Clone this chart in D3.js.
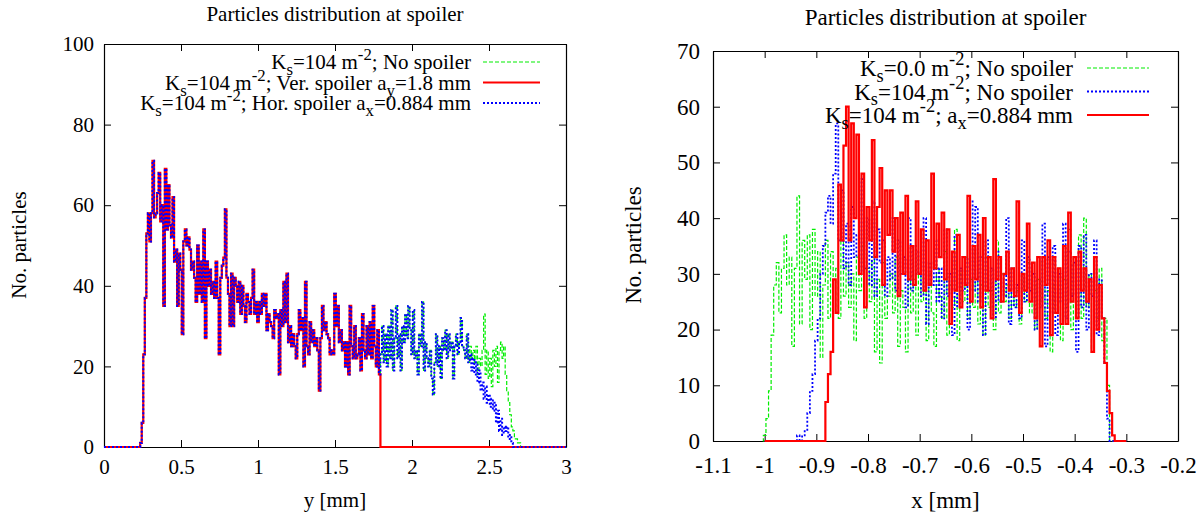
<!DOCTYPE html>
<html>
<head>
<meta charset="utf-8">
<script src="https://cdn.jsdelivr.net/npm/d3@7"></script>
<style>
  body { margin: 0; background: #fff; }
  svg { display: block; }
  svg text { font-family: "Liberation Serif", "DejaVu Serif", serif; }
</style>
</head>
<body>
<div id="container"></div>
<script>
// --- Data: left panel, histogram of y (bin 0.01 mm) --------------------------
const yBinStart = 0.24;
const yBinStep = 0.01;
// shared by all three series from 0.24 to 2.33 mm
const commonCounts = [
  1, 6, 23, 37, 53, 58, 51, 58, 71, 57,
  58, 63, 68, 56, 60, 35, 69, 54, 65, 55,
  52, 62, 46, 49, 35, 48, 44, 28, 51, 54,
  50, 52, 49, 44, 46, 42, 36, 50, 38, 46,
  36, 54, 27, 46, 40, 44, 38, 41, 37, 46,
  37, 23, 42, 45, 47, 59, 42, 38, 30, 43,
  30, 42, 40, 36, 41, 33, 40, 35, 31, 38,
  36, 33, 37, 44, 33, 36, 31, 36, 33, 38,
  35, 38, 29, 33, 31, 30, 27, 34, 32, 33,
  18, 34, 30, 41, 31, 43, 26, 30, 25, 28,
  25, 22, 28, 34, 29, 32, 20, 41, 25, 23,
  31, 26, 29, 25, 27, 24, 14, 27, 35, 29,
  31, 28, 27, 23, 24, 23, 38, 30, 35, 26,
  29, 24, 26, 20, 26, 18, 35, 25, 22, 30,
  22, 23, 27, 19, 33, 24, 22, 30, 23, 31,
  22, 35, 25, 20, 29, 18,
  23, 30, 21, 28, 20, 30, 22, 34, 19, 27,
  35, 22, 28, 19, 30, 26, 33, 27, 35, 29,
  23, 34, 22, 24, 18, 28, 25, 36, 19, 26,
  22, 20, 24, 17, 13, 21, 28, 20, 25, 17,
  27, 24, 29, 22, 28, 24, 26, 17, 25, 28,
  23, 26, 32, 25,
];
// from 2.34 mm onward the spoiler-free and horizontal-spoiler runs split
const noSpoilerTail = [
  24, 22, 28, 21, 25, 22, 24, 21, 25, 18,
  22, 20, 24, 33, 18, 24, 17, 22, 15, 24,
  20, 25, 16, 24, 26, 22, 25, 18, 14, 11,
  8, 5, 4, 2, 2, 1, 1, 0,
];
const horSpoilerTail = [
  24, 22, 28, 21, 23, 19, 22, 18, 21, 16,
  19, 14, 16, 12, 15, 11, 13, 10, 12, 9,
  11, 6, 9, 4, 7, 3, 5, 4, 5, 2,
  3, 1, 0,
];
const verSpoilerEdge = 1.8; // red series is empty beyond the vertical aperture

// --- Data: right panel, histogram of x (bin 0.005 mm) -------------------------
const xBinStep = 0.005;
const ks0Start = -1.0;
const ks0Counts = [
  1, 4, 9, 19, 28, 32, 23, 31, 37, 28,
  33, 17, 31, 44, 21, 36, 29, 37, 20, 38,
  26, 34, 15, 28, 36, 22, 34, 23, 31, 22,
  37, 26, 32, 24, 30, 18, 33, 27, 35, 22,
  31, 25, 33, 16, 29, 14, 32, 22, 26, 30,
  23, 33, 17, 27, 24, 16, 30, 23, 29, 19,
  33, 25, 28, 18, 30, 23, 17, 31, 26, 22,
  34, 19, 28, 24, 38, 18, 30, 25, 33, 22,
  29, 24, 35, 21, 28, 19, 33, 24, 27, 20,
  36, 23, 30, 25, 28, 22, 31, 24, 27, 21,
  30, 25, 32, 23, 28, 20, 29, 25, 33, 22,
  27, 16, 28, 23, 31, 18, 29, 24, 38, 20,
  33, 25, 37, 22, 40, 24, 30, 16, 27, 22,
  31, 18, 22, 10, 0,
];
const ks104Start = -0.935;
const ks104Counts = [
  1, 0, 1, 2, 5, 9, 12, 18, 22, 30,
  35, 41, 44, 39, 48, 57, 36, 45, 31, 39,
  28, 42, 33, 37, 30, 47, 31, 40, 28, 43,
  26, 38, 32, 36, 26, 33, 29, 40, 27, 36,
  30, 33, 24, 40, 27, 35, 30, 34, 26, 40,
  21, 32, 28, 36, 25, 31, 22, 38, 26, 30,
  19, 37, 24, 31, 27, 33, 20, 43, 27, 42,
  25, 33, 19, 36, 27, 31, 22, 34, 25, 30,
  26, 40, 21, 31, 24, 28, 22, 36, 25, 33,
  27, 30, 20, 29, 24, 39, 17, 33, 23, 35,
  19, 30, 25, 39, 22, 34, 26, 32, 16, 35,
  24, 37, 20, 30, 26, 36, 19, 29, 22, 14,
  4, 0,
];
const axStart = -0.885;
const axCounts = [
  0, 7, 12, 16, 29, 23, 46, 36, 53, 60,
  36, 57, 40, 55, 30, 48, 24, 42, 36, 54,
  33, 42, 49, 28, 45, 37, 45, 34, 40, 26,
  41, 30, 44, 29, 35, 28, 43, 30, 38, 27,
  36, 28, 48, 31, 39, 33, 41, 29, 38, 21,
  34, 27, 37, 24, 33, 28, 44, 25, 35, 29,
  37, 24, 40, 27, 33, 22, 47, 29, 33, 25,
  30, 34, 27, 31, 26, 43, 23, 30, 27, 39,
  25, 32, 22, 33, 17, 33, 28, 36, 19, 33,
  23, 31, 21, 35, 21, 41, 25, 33, 22, 34,
  27, 31, 25, 29, 16, 33, 20, 28, 22, 14,
  9, 5, 1, 0,
];

// --- Axis ticks and labels -------------------------------------------------------
const leftXTicks = [0, 0.5, 1, 1.5, 2, 2.5, 3];
const leftYTicks = [0, 20, 40, 60, 80, 100];
const rightXTicks = [-1.1, -1, -0.9, -0.8, -0.7, -0.6, -0.5, -0.4, -0.3, -0.2];
const rightYTicks = [0, 10, 20, 30, 40, 50, 60, 70];
const titleText = "Particles distribution at spoiler";
const leftLegend = [
  "K_s=104 m^{-2}; No spoiler",
  "K_s=104 m^{-2}; Ver. spoiler a_y=1.8 mm",
  "K_s=104 m^{-2}; Hor. spoiler a_x=0.884 mm",
];
const rightLegend = [
  "K_s=0.0 m^{-2}; No spoiler",
  "K_s=104 m^{-2}; No spoiler",
  "K_s=104 m^{-2}; a_x=0.884 mm",
];

// --- helpers -----------------------------------------------------------------------
const r4 = (v) => Math.round(v * 10000) / 10000;

// bins -> points padded with zeros over the plotted extent
function histPoints(start, step, counts, xMin, xMax) {
  const pts = [[xMin, 0], [r4(start - step), 0]];
  counts.forEach((c, i) => pts.push([r4(start + i * step), c]));
  pts.push([r4(start + counts.length * step), 0], [xMax, 0]);
  return pts;
}

const leftShared = (tail) => commonCounts.concat(tail);
const verCounts = commonCounts.filter((c, i) => yBinStart + i * yBinStep < verSpoilerEdge - yBinStep / 2);

const GREEN = "#00ee00", RED = "#ff0000", BLUE = "#0000ff";

const svg = d3.select("#container").append("svg").attr("width", 1202).attr("height", 519);
svg.append("rect").attr("width", 1202).attr("height", 519).attr("fill", "#fff");

// gnuplot-ish enhanced text: K_s, m^{-2}
function richText(sel, str, fs) {
  const parts = str.split(/(_\{[^}]*\}|\^\{[^}]*\}|_.|\^.)/).filter((s) => s.length);
  let shift = 0;
  parts.forEach((p) => {
    let txt = p, target = 0, size = fs;
    if (p[0] === "_" || p[0] === "^") {
      txt = p.slice(1).replace(/[{}]/g, "");
      target = p[0] === "_" ? fs * 0.34 : -fs * 0.38;
      size = fs * 0.8;
    }
    sel.append("tspan").attr("dy", target - shift).style("font-size", size + "px").text(txt);
    shift = target;
  });
}

function drawPanel(p) {
  const x = d3.scaleLinear().domain(p.xDomain).range([p.left, p.right]);
  const y = d3.scaleLinear().domain(p.yDomain).range([p.bottom, p.top]);
  const g = svg.append("g");

  const styleAxis = (ax) => {
    ax.attr("font-family", null);
    ax.select(".domain").attr("stroke", "#000").attr("stroke-width", 1.2);
    ax.selectAll(".tick line").attr("stroke", "#000").attr("stroke-width", 1);
    ax.selectAll("text").attr("fill", "#000").style("font-size", p.tickFont + "px");
  };
  const fmt = (d) => String(+d.toFixed(2));

  styleAxis(g.append("g").attr("transform", `translate(0,${p.bottom})`)
    .call(d3.axisBottom(x).tickValues(p.xTicks).tickSize(-p.tickLen).tickSizeOuter(0).tickPadding(p.xPad).tickFormat(fmt)));
  styleAxis(g.append("g").attr("transform", `translate(0,${p.top})`)
    .call(d3.axisTop(x).tickValues(p.xTicks).tickSize(-p.tickLen).tickSizeOuter(0).tickFormat("")));
  styleAxis(g.append("g").attr("transform", `translate(${p.left},0)`)
    .call(d3.axisLeft(y).tickValues(p.yTicks).tickSize(-p.tickLen).tickSizeOuter(0).tickPadding(p.yPad).tickFormat(fmt)));
  styleAxis(g.append("g").attr("transform", `translate(${p.right},0)`)
    .call(d3.axisRight(y).tickValues(p.yTicks).tickSize(-p.tickLen).tickSizeOuter(0).tickFormat("")));

  const line = d3.line().x((d) => x(d[0])).y((d) => y(d[1])).curve(d3.curveStep);
  p.series.forEach((s) => {
    g.append("path")
      .attr("d", line(s.points))
      .attr("fill", "none")
      .attr("stroke", s.color)
      .attr("stroke-width", s.width)
      .attr("stroke-dasharray", s.dash || null);
  });

  // legend (top right, text right-aligned, sample line after)
  p.legendOrder.forEach((k, i) => {
    const s = p.series[k];
    const ly = p.legend.y + i * p.legend.dy;
    const t = g.append("text")
      .attr("x", p.legend.textX)
      .attr("y", ly)
      .attr("text-anchor", "end")
      .attr("dominant-baseline", "central")
      .attr("fill", "#000")
      .style("font-size", p.legend.font + "px");
    richText(t, s.label, p.legend.font);
    g.append("line")
      .attr("x1", p.legend.x1).attr("x2", p.legend.x2)
      .attr("y1", ly).attr("y2", ly)
      .attr("stroke", s.color)
      .attr("stroke-width", s.width)
      .attr("stroke-dasharray", s.dash || null);
  });

  const mid = (p.left + p.right) / 2;
  g.append("text").attr("x", mid).attr("y", p.titleY).attr("text-anchor", "middle")
    .attr("dominant-baseline", "central").style("font-size", p.titleFont + "px").text(titleText);
  g.append("text").attr("x", mid).attr("y", 500).attr("text-anchor", "middle")
    .attr("dominant-baseline", "central").style("font-size", p.labelFont + "px").text(p.xLabel);
  g.append("text").attr("transform", `translate(${p.yLabelX},245) rotate(-90)`)
    .attr("text-anchor", "middle").attr("dominant-baseline", "central")
    .style("font-size", p.labelFont + "px").text("No. particles");
}

// --- left panel: y distribution ---------------------------------------------------
drawPanel({
  xDomain: [0, 3], yDomain: [0, 100],
  left: 104, right: 566, top: 44, bottom: 447,
  xTicks: leftXTicks, yTicks: leftYTicks,
  tickLen: 7, xPad: 12, yPad: 10, tickFont: 21,
  titleY: 14, titleFont: 21, labelFont: 21, xLabel: "y [mm]", yLabelX: 19,
  legend: { textX: 471, x1: 483, x2: 540, y: 62, dy: 20.5, font: 21 },
  legendOrder: [0, 1, 2],
  series: [
    { label: leftLegend[0], color: GREEN, width: 1.2, dash: "4,2",
      points: histPoints(yBinStart, yBinStep, leftShared(noSpoilerTail), 0, 3) },
    { label: leftLegend[1], color: RED, width: 2.2,
      points: histPoints(yBinStart, yBinStep, verCounts, 0, 3) },
    { label: leftLegend[2], color: BLUE, width: 2, dash: "2,2",
      points: histPoints(yBinStart, yBinStep, leftShared(horSpoilerTail), 0, 3) },
  ],
});

// --- right panel: x distribution --------------------------------------------------
drawPanel({
  xDomain: [-1.1, -0.2], yDomain: [0, 70],
  left: 713, right: 1178, top: 51, bottom: 441,
  xTicks: rightXTicks, yTicks: rightYTicks,
  tickLen: 7, xPad: 16, yPad: 13, tickFont: 23,
  titleY: 17, titleFont: 23, labelFont: 23, xLabel: "x [mm]", yLabelX: 633,
  legend: { textX: 1073, x1: 1087, x2: 1149, y: 68, dy: 23.5, font: 23 },
  legendOrder: [0, 1, 2],
  series: [
    { label: rightLegend[0], color: GREEN, width: 1.2, dash: "4,2",
      points: histPoints(ks0Start, xBinStep, ks0Counts, -1.0, -0.3) },
    { label: rightLegend[1], color: BLUE, width: 1.8, dash: "2,2",
      points: histPoints(ks104Start, xBinStep, ks104Counts, -1.0, -0.3) },
    { label: rightLegend[2], color: RED, width: 2.2,
      points: histPoints(axStart, xBinStep, axCounts, -1.0, -0.3) },
  ],
});
</script>
</body>
</html>
